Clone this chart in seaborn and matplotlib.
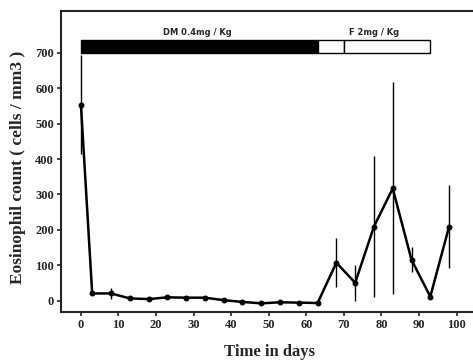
import numpy as np
import pandas as pd
import matplotlib
matplotlib.use('Agg')
import matplotlib.pyplot as plt
import seaborn as sns

sns.set_style('ticks')
plt.rcParams['font.family'] = ['Liberation Serif', 'DejaVu Serif']

days = [0, 3, 8, 13, 18, 23, 28, 33, 38, 43, 48, 53, 58, 63, 68, 73, 78, 83, 88, 93, 98]
counts = [553, 20, 20, 6, 4, 9, 8, 8, 1, -4, -8, -5, -6, -7, 107, 50, 209, 317, 115, 11, 209]
errors = [140, 0, 15, 0, 0, 0, 0, 0, 0, 0, 0, 0, 0, 0, 70, 50, 200, 300, 35, 0, 118]

# treatment bar: start day, length, fill
treat_start = [0, 63, 70]
treat_len = [63, 7, 23]
treat_color = ['black', 'white', 'white']
treat_labels = ['DM 0.4mg / Kg', 'F 2mg / Kg']
treat_label_x = [31, 78]

df = pd.DataFrame({'day': days, 'count': counts, 'err': errors})

fig = plt.figure(figsize=(4.73, 3.63), dpi=100)
ax = fig.add_axes([0.129, 0.14, 0.88, 0.83])

sns.lineplot(data=df, x='day', y='count', ax=ax, color='black', lw=1.8,
             marker='o', markersize=3.5, markeredgecolor='black')
ax.vlines(df['day'], df['count'] - df['err'], df['count'] + df['err'],
          color='black', lw=1.0)

ax.barh(718, treat_len, left=treat_start, height=36, color=treat_color,
        edgecolor='black', lw=1.0)
for lab, x in zip(treat_labels, treat_label_x):
    ax.text(x, 757, lab, ha='center', va='center', fontsize=6,
            fontweight='bold', family=['DejaVu Sans'])

ax.set_xlim(-5.3, 105.5)
ax.set_ylim(-33, 819)
ax.set_xticks(range(0, 101, 10))
ax.set_yticks(range(0, 701, 100))
ax.tick_params(labelsize=9, width=1.2, length=3, direction='out', pad=2)
for lab in ax.get_xticklabels() + ax.get_yticklabels():
    lab.set_fontweight('bold')
ax.spines['right'].set_visible(False)
for s in ['left', 'bottom', 'top']:
    ax.spines[s].set_linewidth(1.5)

ax.set_xlabel('Time in days', fontsize=12, fontweight='bold')
ax.xaxis.set_label_coords(0.5, -0.105)
ax.set_ylabel('Eosinophil count ( cells / mm3 )', fontsize=12.5, fontweight='bold')
ax.yaxis.set_label_coords(-0.085, 0.48)

fig.savefig('out.png', dpi=100)
